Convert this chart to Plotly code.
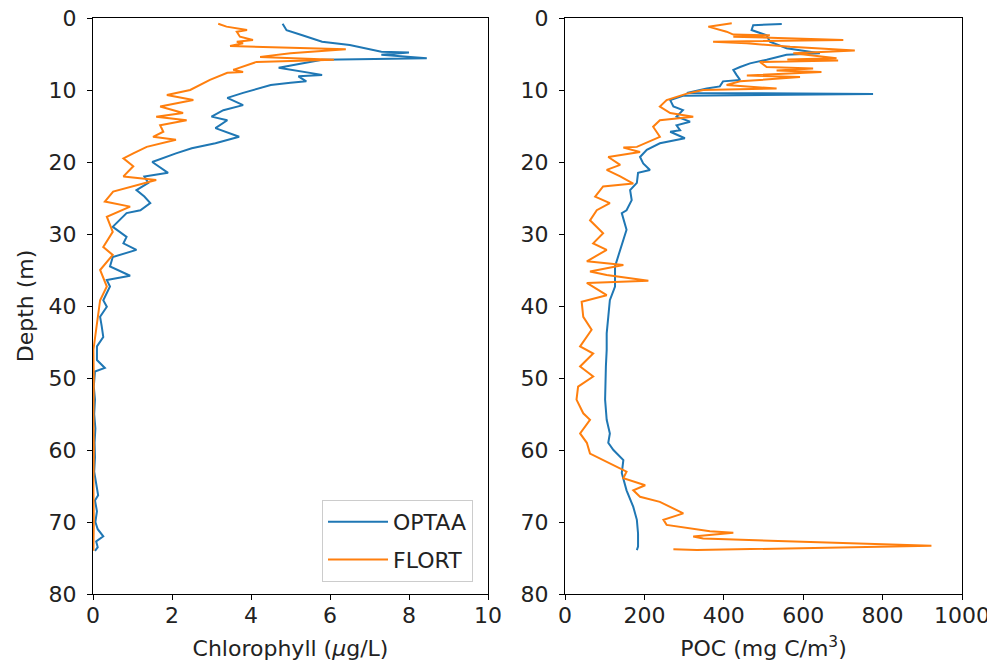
import plotly.graph_objects as go

# ---- Chlorophyll (left panel) ----
chl_optaa_depth = [0.8,1.7,2.4,3.3,3.75,4.7,4.8,5.1,5.6,5.8,6.9,7.2,7.9,8.1,8.8,9.0,9.3,10.4,11.1,12.1,
                   12.8,13.7,14.2,15.3,16.5,17.4,18.1,18.8,20.0,21.5,22.0,22.9,23.9,24.8,25.7,26.7,27.1,29.0,30.4,31.3,
                   32.2,33.2,34.5,35.8,36.4,37.3,39.2,40.1,41.5,42.8,44.3,45.6,47.5,48.6,49.1,51.2,53,55,57,59,
                   61,63,64.5,66.3,67,68.5,70,71,72,72.7,73.5,74]
chl_optaa = [4.8,4.9,5.3,5.8,6.5,7.3,8.0,7.3,8.45,5.8,4.7,5.0,5.8,5.2,5.4,5.0,4.5,3.8,3.4,3.8,
             3.3,3.0,3.4,3.1,3.7,3.1,2.5,2.1,1.5,1.9,1.3,1.4,1.1,1.3,1.45,1.2,0.85,0.5,0.85,0.77,
             1.1,0.5,0.43,0.94,0.35,0.43,0.26,0.35,0.18,0.22,0.26,0.1,0.1,0.3,0.05,0.02,0.05,0.03,0.06,0.04,
             0.05,0.03,0.08,0.13,0.05,0.1,0.06,0.12,0.26,0.08,0.12,0.05]

chl_flort_depth = [0.8,1.2,1.67,1.9,2.6,3.06,3.3,3.5,3.9,4.35,4.9,5.4,5.8,6.1,7.2,7.5,7.6,8.6,10.0,10.7,
                   11.4,12.3,13.2,13.7,14.2,14.9,15.8,16.5,16.9,17.9,18.8,19.5,20.6,21.5,22.0,22.5,24.1,25.5,26.2,27.6,
                   29.7,31.8,32.9,35,37.3,39.2,42.9,46.1,50,55,60,65,70,74]
chl_flort = [3.17,3.38,3.9,3.64,3.72,4.05,3.64,3.8,3.47,6.4,5.0,4.23,6.1,4.14,3.55,3.8,3.4,2.96,2.46,1.87,
             2.54,1.7,2.28,1.6,2.37,1.7,1.78,1.52,2.1,1.36,1.02,0.77,1.02,0.85,0.77,1.6,0.51,0.3,0.94,0.35,
             0.5,0.26,0.5,0.18,0.35,0.18,0.09,0.01,0.02,0.01,0.02,0.01,0.02,0.01]

# ---- POC (right panel) ----
poc_optaa_depth = [0.83,1.0,1.67,2.4,3.3,4.2,4.9,5.1,5.8,6.3,6.8,7.2,7.9,8.6,8.8,9.5,9.8,10.4,10.55,10.8,
                   11.4,12.3,12.8,13.7,14.4,14.9,15.6,15.8,16.7,17.4,18.3,19.3,20.2,21.1,21.5,22.9,23.9,25.3,26.7,27.1,
                   29.4,32.2,34.5,37.3,39.2,41.5,43.8,46.1,48.4,53,55.8,57.7,59,60,61.4,63.2,65.6,67.9,69.7,71.6,
                   73.4,73.9]
poc_optaa = [546,474,470,508,516,558,642,558,508,466,441,424,432,441,398,390,357,307,776,297,
             265,273,297,281,315,281,290,265,302,239,206,189,197,214,184,181,164,168,155,143,
             155,139,126,126,113,109,105,105,103,101,105,113,109,122,147,143,155,172,181,184,
             184,181]

poc_flort_depth = [0.74,1.2,1.9,2.3,2.4,2.6,3.05,3.3,3.5,4.0,4.5,4.9,5.6,5.75,5.9,6.1,6.8,7.0,7.3,7.5,
                   8.0,8.2,8.8,9.3,9.8,10.0,10.5,11.4,12.3,13.2,13.7,14.2,15.1,16.5,17.9,18.0,18.6,19.3,20.4,21.1,
                   22.0,23.0,23.4,24.8,25.7,26.7,28.1,29.9,31.3,32.2,33.8,34.3,35.2,35.7,36.5,36.8,38.5,39.4,41.5,43.3,
                   45.6,46.6,48.4,49.8,51.2,53,54.9,55.8,57.7,59,60.5,61.4,62.5,63.0,63.9,64.9,65.6,66.5,67.2,68.8,
                   69.7,70.4,71.3,71.5,72.0,72.3,73.3,73.9,73.8]
poc_flort = [420,361,407,424,516,424,701,373,458,567,730,575,684,560,688,491,508,625,533,646,
             458,592,441,407,533,348,307,256,239,265,323,239,222,239,181,147,189,109,139,105,
             139,172,96,76,113,80,63,96,71,105,55,147,63,105,210,55,105,42,46,67,
             38,71,38,71,33,29,46,63,38,55,63,96,139,155,147,202,172,189,239,298,
             248,256,365,424,323,348,923,332,273]

depth_ticks = [0, 10, 20, 30, 40, 50, 60, 70, 80]
chl_ticks = [0, 2, 4, 6, 8, 10]
poc_ticks = [0, 200, 400, 600, 800, 1000]

BLUE = "#1f77b4"
ORANGE = "#ff7f0e"
OFF = 8  # page body margin offset
W, H = 995 - OFF, 669 - OFF
L, T = 93 - OFF, 18 - OFF
R = W - (962 - OFF)
B = H - (594 - OFF)
PW = W - L - R
PH = H - T - B
FS = 22

fig = go.Figure()
fig.add_trace(go.Scatter(x=chl_optaa, y=chl_optaa_depth, mode="lines", name="OPTAA",
                         line=dict(color=BLUE, width=2), xaxis="x", yaxis="y", legendgroup="a"))
fig.add_trace(go.Scatter(x=chl_flort, y=chl_flort_depth, mode="lines", name="FLORT",
                         line=dict(color=ORANGE, width=2), xaxis="x", yaxis="y", legendgroup="b"))
fig.add_trace(go.Scatter(x=poc_optaa, y=poc_optaa_depth, mode="lines", name="OPTAA", showlegend=False,
                         line=dict(color=BLUE, width=2), xaxis="x2", yaxis="y2"))
fig.add_trace(go.Scatter(x=poc_flort, y=poc_flort_depth, mode="lines", name="FLORT", showlegend=False,
                         line=dict(color=ORANGE, width=2), xaxis="x2", yaxis="y2"))

axis_common = dict(showgrid=False, zeroline=False, showline=True, linecolor="black", linewidth=1,
                   mirror=True, ticks="outside", ticklen=5, tickwidth=1, tickcolor="black",
                   automargin=False, ticklabeloverflow="allow",
                   tickfont=dict(size=FS, color="#222222"))

fig.update_layout(
    width=W, height=H,
    margin=dict(l=L, r=R, t=T, b=B, autoexpand=False),
    paper_bgcolor="white", plot_bgcolor="white",
    font=dict(family="DejaVu Sans", size=FS, color="#222222"),
    xaxis=dict(domain=[0, (488 - 93) / PW], range=[0, 10], tickvals=chl_ticks, ticklabelstandoff=-3,
               title=dict(text="Chlorophyll (<i>μ</i>g/L)", font=dict(size=FS), standoff=13),
               anchor="y", **axis_common),
    yaxis=dict(domain=[0, 1], range=[80, 0], tickvals=depth_ticks, ticklabelstandoff=6,
               title=dict(text="Depth (m)", font=dict(size=FS), standoff=8),
               anchor="x", **axis_common),
    xaxis2=dict(domain=[(565 - 93) / PW, 1], range=[0, 1000], tickvals=poc_ticks, ticklabelstandoff=-3,
                title=dict(text="POC (mg C/m<sup>3</sup>)", font=dict(size=FS), standoff=13),
                anchor="y2", **axis_common),
    yaxis2=dict(domain=[0, 1], range=[80, 0], tickvals=depth_ticks, ticklabelstandoff=6,
                anchor="x2", **axis_common),
    showlegend=True,
    legend=dict(x=(473 - 93) / PW, xanchor="right", y=(594 - 582) / PH, yanchor="bottom",
                bgcolor="white", bordercolor="#cccccc", borderwidth=1, itemwidth=60,
                font=dict(size=FS, color="#222222"), traceorder="grouped", tracegroupgap=6),
)

fig.write_html("out.html")
